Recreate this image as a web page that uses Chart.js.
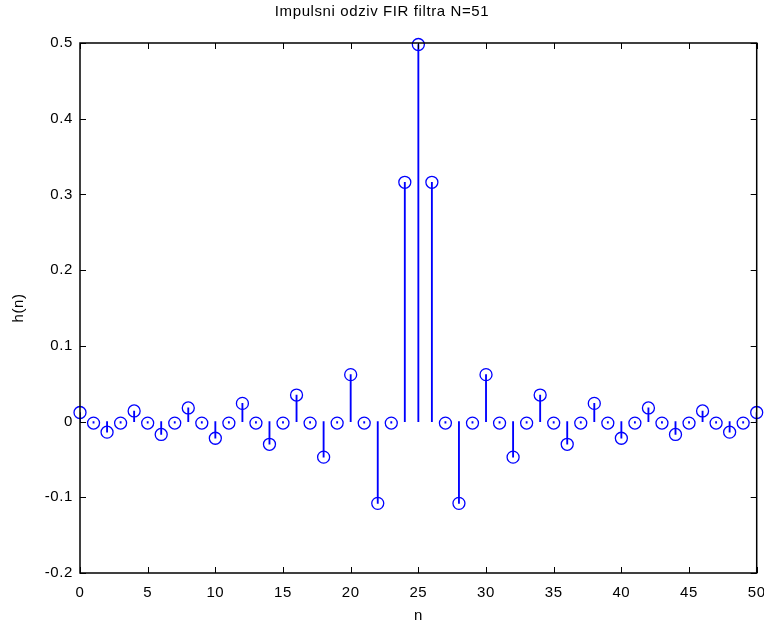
<!DOCTYPE html>
<html>
<head>
<meta charset="utf-8">
<script src="https://cdn.jsdelivr.net/npm/chart.js@4/dist/chart.umd.min.js"></script>
<style>
  html, body { margin: 0; padding: 0; background: #fff; }
  #wrap { width: 764px; height: 626px; }
</style>
</head>
<body>
<div id="wrap"><canvas id="stemChart"></canvas></div>
<script>
// uzorci n = 0..50
const nValues = Array.from({length: 51}, (_, i) => i);
// impulsni odziv h(n), ocitano sa slike
const hValues = [
  0.012, -0.002, -0.014, -0.002, 0.014, -0.002, -0.017, -0.002, 0.018, -0.002,
  -0.022, -0.002, 0.024, -0.002, -0.030, -0.002, 0.035, -0.002, -0.047, -0.002,
  0.062, -0.002, -0.108, -0.002, 0.316, 0.498, 0.316, -0.002, -0.108, -0.002,
  0.062, -0.002, -0.047, -0.002, 0.035, -0.002, -0.030, -0.002, 0.024, -0.002,
  -0.022, -0.002, 0.018, -0.002, -0.017, -0.002, 0.014, -0.002, -0.014, -0.002,
  0.012
];
const xTicks = [0, 5, 10, 15, 20, 25, 30, 35, 40, 45, 50];
const yTicks = [-0.2, -0.1, 0, 0.1, 0.2, 0.3, 0.4, 0.5];

const points = nValues.map((n, i) => ({x: n, y: hValues[i]}));
const FONT = 'Liberation Sans, Arial, sans-serif';

// MATLAB tekst ima malo siri razmak izmedju slova
const spacingPlugin = {
  id: 'spacingPlugin',
  beforeLayout(chart) { chart.ctx.letterSpacing = '0.6px'; },
  beforeDraw(chart) { chart.ctx.letterSpacing = '0.6px'; }
};

// okvir i unutrasnje oznake na sve cetiri strane (kao u MATLAB-u)
const boxPlugin = {
  id: 'boxPlugin',
  afterDraw(chart) {
    const {ctx, chartArea: a, scales} = chart;
    const len = 6;
    ctx.save();
    ctx.strokeStyle = '#000';
    ctx.lineWidth = 1.5;
    ctx.strokeRect(a.left, a.top, a.right - a.left, a.bottom - a.top);
    ctx.lineWidth = 1;
    ctx.beginPath();
    xTicks.forEach(v => {
      const px = Math.round(scales.x.getPixelForValue(v)) + 0.5;
      ctx.moveTo(px, a.bottom); ctx.lineTo(px, a.bottom - len);
      ctx.moveTo(px, a.top); ctx.lineTo(px, a.top + len);
    });
    yTicks.forEach(v => {
      const py = Math.round(scales.y.getPixelForValue(v)) + 0.5;
      ctx.moveTo(a.left, py); ctx.lineTo(a.left + len, py);
      ctx.moveTo(a.right, py); ctx.lineTo(a.right - len, py);
    });
    ctx.stroke();
    ctx.restore();
  }
};

const ctx = document.getElementById('stemChart').getContext('2d');
new Chart(ctx, {
  type: 'scatter',
  data: {
    datasets: [
      {
        type: 'scatter',
        data: points,
        pointStyle: 'circle',
        pointRadius: 6,
        pointHoverRadius: 6,
        backgroundColor: 'rgba(0,0,0,0)',
        borderColor: '#0000ff',
        borderWidth: 1.3,
        clip: false,
        order: 1
      },
      {
        type: 'bar',
        data: points,
        backgroundColor: '#0000ff',
        borderWidth: 0,
        barThickness: 1.2,
        order: 2
      }
    ]
  },
  options: {
    responsive: true,
    maintainAspectRatio: false,
    animation: false,
    layout: { padding: 0 },
    plugins: {
      legend: { display: false },
      tooltip: { enabled: false },
      title: {
        display: true,
        text: 'Impulsni odziv FIR filtra N=51',
        color: '#000',
        font: { family: FONT, size: 15, weight: 'normal' },
        padding: { top: 3, bottom: 22 }
      }
    },
    scales: {
      x: {
        type: 'linear',
        min: 0,
        max: 50,
        offset: false,
        grid: { display: false, drawTicks: false },
        border: { display: false },
        afterFit: s => { s.height = 53; s.paddingRight = 7; },
        afterBuildTicks: s => { s.ticks = xTicks.map(v => ({value: v})); },
        ticks: {
          color: '#000',
          font: { family: FONT, size: 15 },
          padding: 11,
          maxRotation: 0,
          callback: v => String(v)
        },
        title: {
          display: true,
          text: 'n',
          color: '#000',
          font: { family: FONT, size: 15 },
          padding: { top: 0, bottom: 1 }
        }
      },
      y: {
        type: 'linear',
        min: -0.2,
        max: 0.5,
        grid: { display: false, drawTicks: false },
        border: { display: false },
        afterFit: s => { s.width = 80; },
        afterBuildTicks: s => { s.ticks = yTicks.map(v => ({value: v})); },
        ticks: {
          color: '#000',
          font: { family: FONT, size: 15 },
          padding: 7,
          callback: v => String(+v.toFixed(1))
        },
        title: {
          display: true,
          text: 'h(n)',
          color: '#000',
          font: { family: FONT, size: 15 },
          padding: { top: 10, bottom: 0 }
        }
      }
    }
  },
  plugins: [spacingPlugin, boxPlugin]
});
</script>
</body>
</html>
